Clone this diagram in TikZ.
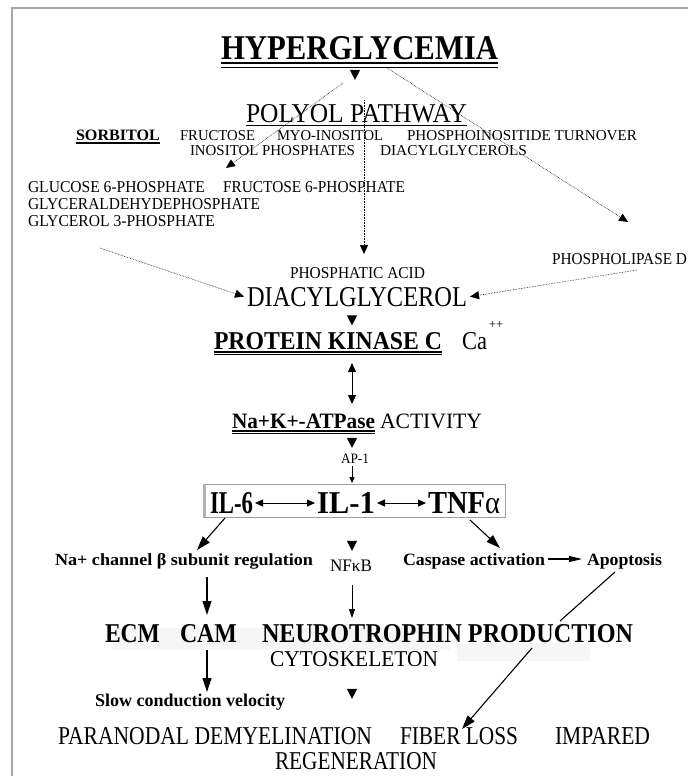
\documentclass[tikz,border=0pt]{standalone}
\usepackage{fontspec}
\setmainfont{Liberation Serif}
\usepackage{graphicx}
\usetikzlibrary{arrows.meta,shapes.geometric}
\newcommand{\fitt}[3]{\resizebox{#1pt}{#2pt}{#3}}
\tikzset{
  txt/.style={inner sep=0pt, outer sep=0pt, anchor=base west},
  tri/.style={isosceles triangle, shape border rotate=-90, fill=black, inner sep=0pt, minimum width=9pt, minimum height=10pt, isosceles triangle apex angle=55},
  dotarr/.style={densely dotted, line width=0.6pt, -{Triangle[length=9pt,width=8pt]}},
  bigarr/.style={line width=1.1pt, -{Triangle[length=14pt,width=9pt]}},
  thinarr/.style={line width=0.7pt, -{Triangle[length=9pt,width=6pt]}},
  dblarr/.style={line width=0.8pt, {Triangle[length=8pt,width=7pt]}-{Triangle[length=8pt,width=7pt]}},
  uline/.style={line width=0.9pt},
}
\begin{document}
\begin{tikzpicture}[x=1pt,y=-1pt]
\useasboundingbox (0,0) rectangle (688,776);
\fill[white] (0,0) rectangle (688,776);
\draw[gray!70, line width=1.5pt] (12,776) -- (12,8) -- (688,8);
% faint shading
\fill[gray!7] (113,628) rectangle (450,650);
\fill[gray!7] (457,643) rectangle (590,661);

% texts
\node[txt] (hyper) at (221,60) {\fitt{277}{23}{\textbf{HYPERGLYCEMIA}}};
\draw[line width=2pt] (221,63.5) -- (498,63.5);
\draw[line width=0.8pt] (221,67) -- (498,67);
\node[txt] (polyol) at (246,122) {\fitt{221}{18}{POLYOL PATHWAY}};
\draw[uline] (246,125) -- (467,125);

\node[txt] (sorb) at (76,140) {\fitt{84}{10.5}{\textbf{SORBITOL}}};
\draw[line width=1.2pt] (76,143) -- (160,143);
\node[txt] (fruc) at (180,140) {\fitt{75}{10}{FRUCTOSE}};
\node[txt] (myo) at (277,140) {\fitt{106}{10}{MYO-INOSITOL}};
\node[txt] (pit) at (407,140) {\fitt{230}{10}{PHOSPHOINOSITIDE TURNOVER}};
\node[txt] (inph) at (190,155) {\fitt{165}{10}{INOSITOL PHOSPHATES}};
\node[txt] (dags) at (380,155) {\fitt{147}{10}{DIACYLGLYCEROLS}};

\node[txt] (g6p) at (28,192) {\fitt{177}{11}{GLUCOSE 6-PHOSPHATE}};
\node[txt] (f6p) at (223,192) {\fitt{182}{11}{FRUCTOSE 6-PHOSPHATE}};
\node[txt] (gap) at (28,209) {\fitt{232}{11}{GLYCERALDEHYDEPHOSPHATE}};
\node[txt] (g3p) at (28,226) {\fitt{187}{11}{GLYCEROL 3-PHOSPHATE}};
\node[txt] (pld) at (552,264) {\fitt{135}{11}{PHOSPHOLIPASE D}};
\node[txt] (pa) at (290,278) {\fitt{135}{11}{PHOSPHATIC ACID}};
\node[txt] (dag) at (247,306) {\fitt{220}{19}{DIACYLGLYCEROL}};

\node[txt] (pkc) at (214,349) {\fitt{228}{17}{\textbf{PROTEIN KINASE C}}};
\draw[line width=1.6pt] (214,352) -- (442,352);
\draw[line width=0.6pt] (214,354.5) -- (442,354.5);
\node[txt] (ca) at (462,349) {\fitt{25}{17}{Ca}};
\node[txt] (capp) at (489,328) {\fitt{14}{7}{++}};

\node[txt] (atp) at (232,428) {\fitt{143}{14.5}{\textbf{Na+K+-ATPase}}};
\draw[line width=1.6pt] (232,431) -- (375,431);
\draw[line width=0.6pt] (232,433.5) -- (375,433.5);
\node[txt] (act) at (380,428) {\fitt{102}{14.5}{ACTIVITY}};
\node[txt] (ap1) at (341,463) {\fitt{28}{9.5}{AP-1}};

% IL box
\draw[gray!75, line width=1pt] (203,484) rectangle (505,517);
\draw[gray!60, line width=3pt] (204.5,484) -- (204.5,517);
\node[txt] (il6) at (210,513) {\fitt{43}{21}{\textbf{IL-6}}};
\node[txt] (il1) at (317,513) {\fitt{58}{21}{\textbf{IL-1}}};
\node[txt] (tnf) at (428,513) {\fitt{72}{21}{\textbf{TNF}{\mdseries α}}};

\node[txt] (nach) at (55,565) {\fitt{258}{12}{\textbf{Na+ channel β subunit regulation}}};
\node[txt] (nfkb) at (330,571) {\fitt{42}{11.5}{NFκB}};
\node[txt] (casp) at (403,565) {\fitt{142}{12}{\textbf{Caspase activation}}};
\node[txt] (apop) at (587,565) {\fitt{75}{12}{\textbf{Apoptosis}}};

\node[txt] (ecm) at (105,642) {\fitt{55}{18}{\textbf{ECM}}};
\node[txt] (cam) at (180,642) {\fitt{57}{18}{\textbf{CAM}}};
\node[txt] (neuro) at (262,642) {\fitt{371}{18}{\textbf{NEUROTROPHIN PRODUCTION}}};
\node[txt] (cyto) at (270,666) {\fitt{168}{15}{CYTOSKELETON}};
\node[txt] (slow) at (95,706) {\fitt{190}{12.5}{\textbf{Slow conduction velocity}}};
\node[txt] (para) at (58,744) {\fitt{314}{17}{PARANODAL DEMYELINATION}};
\node[txt] (fiber) at (400,744) {\fitt{118}{17}{FIBER LOSS}};
\node[txt] (imp) at (555,744) {\fitt{95}{17}{IMPARED}};
\node[txt] (regen) at (275,769) {\fitt{162}{17}{REGENERATION}};

% triangles (arrowheads without shaft)
\node[tri] (t1) at (355,73) {};
\node[tri] (t2) at (352,318.5) {};
\node[tri] (t3) at (352,441) {};
\node[tri] (t4) at (352,544) {};
\node[tri] (t5) at (352,692) {};

% dotted connectors
\coordinate (d1s) at (343,83);
\coordinate (d2s) at (387,68);
\coordinate (d3s) at (364,100);
\draw[dotarr] (d1s) -- (226,168);
\draw[dotarr] (d2s) -- (628,222);
\draw[dotarr] (d3s) -- (364,254);
\draw[dotarr] ([shift={(72,22)}]g3p.base west) -- ([xshift=-3pt]dag.west);
\draw[dotarr] ([shift={(85,6)}]pld.base west) -- ([xshift=3pt]dag.east);

% solid connectors
\draw[line width=0.9pt, {Triangle[length=9pt,width=8pt]}-{Triangle[length=9pt,width=8pt]}] (352,363) -- (352,404);
\draw[line width=0.6pt, -{Triangle[length=6pt,width=5pt]}] (352,466) -- (352,483);
\draw[dblarr] ([shift={(2,-10)}]il6.base east) -- ([shift={(-2,-10)}]il1.base west);
\draw[dblarr] ([shift={(2,-10)}]il1.base east) -- ([shift={(-2,-10)}]tnf.base west);
\draw[bigarr] (225,518) -- (197,550);
\draw[bigarr] (470,520) -- (500,548);
\draw[line width=1.1pt, -{Triangle[length=13pt,width=6pt]}] ([shift={(3,-6)}]casp.base east) -- ([shift={(-5,-6)}]apop.base west);
\draw[bigarr] (207,577) -- (207,615);
\draw[thinarr] (352,585) -- (352,618);
\draw[line width=1.1pt] (615,572) -- (560,621);
\draw[bigarr] (532,648) -- (462,729);
\draw[bigarr] (207,650) -- (207,692);
\end{tikzpicture}
\end{document}
